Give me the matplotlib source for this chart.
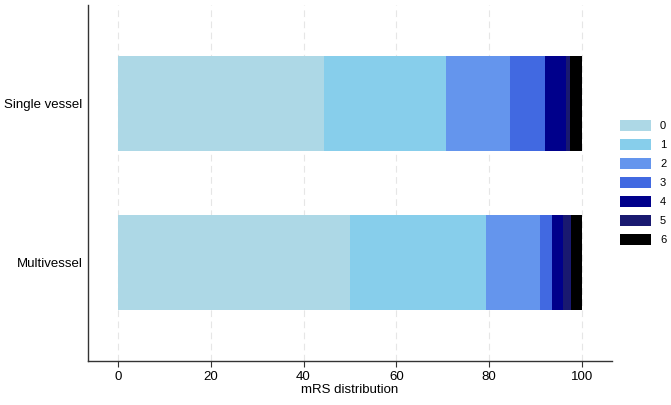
import matplotlib
matplotlib.use("Agg")
import matplotlib.pyplot as plt
import numpy as np

plt.rcParams['font.family'] = ['Liberation Sans', 'DejaVu Sans']

groups = ["Multivessel", "Single vessel"]
mrs_labels = ["0", "1", "2", "3", "4", "5", "6"]
single_vessel = [44.4, 26.3, 13.8, 7.6, 4.5, 0.8, 2.6]
multivessel = [50.0, 29.4, 11.5, 2.7, 2.4, 1.6, 2.4]
colors = ["#add8e6", "#87ceeb", "#6495ed", "#4169e1", "#00008b", "#191970", "#000000"]

data = np.array([multivessel, single_vessel])

fig = plt.figure(figsize=(6.71, 4.05), dpi=100)
ax = fig.add_axes([0.131, 0.1086, 0.781, 0.879])

y = np.arange(len(groups))
left = np.zeros(len(groups))
handles = []
for i, lab in enumerate(mrs_labels):
    h = ax.barh(y, data[:, i], left=left, height=0.6, color=colors[i], label=lab, zorder=3)
    handles.append(h)
    left += data[:, i]

ax.set_xlim(-6.5, 106.5)
ax.set_ylim(-0.623, 1.62)
ax.set_yticks(y)
ax.set_yticklabels(groups, fontsize=9.5)
ax.tick_params(axis='y', length=0, pad=4)
ax.set_xticks([0, 20, 40, 60, 80, 100])
ax.tick_params(axis='x', labelsize=9.5, length=4, color='#333333', pad=3)
ax.set_xlabel("mRS distribution", fontsize=9.5, labelpad=1)
ax.grid(axis='x', linestyle=(0, (6, 4)), color='#e6e6e6', linewidth=0.8, zorder=0)
ax.spines['top'].set_visible(False)
ax.spines['right'].set_visible(False)
for s in ['left', 'bottom']:
    ax.spines[s].set_color('#333333')
    ax.spines[s].set_linewidth(1.0)

fig.legend(handles=handles, labels=mrs_labels, loc='center left',
           bbox_to_anchor=(0.924, 0.549), frameon=False, fontsize=8,
           handlelength=2.8, handleheight=1.15, labelspacing=0.69,
           handletextpad=0.8, borderaxespad=0, borderpad=0)

fig.savefig("out.png", dpi=100)
